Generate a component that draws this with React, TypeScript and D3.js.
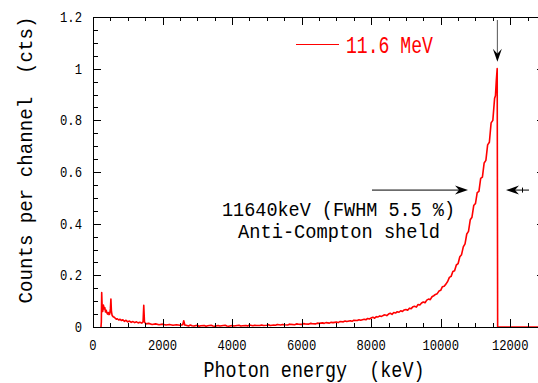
import React from 'react';
import * as d3 from 'd3';

// spectrum, [photon energy keV, counts per channel]
const lowEnergySpectrum: [number, number][] = [
  [230, 0], [240, 0.02], [250, 0.133], [265, 0.07], [280, 0.06], [300, 0.085], [320, 0.07],
  [340, 0.075], [360, 0.058], [380, 0.065], [400, 0.055], [420, 0.05], [440, 0.056], [460, 0.048],
  [480, 0.05], [500, 0.07], [515, 0.108], [530, 0.06], [550, 0.045], [580, 0.04], [610, 0.038],
  [640, 0.034], [670, 0.03], [700, 0.032], [740, 0.027], [780, 0.03], [820, 0.025], [860, 0.028],
  [900, 0.022], [950, 0.026], [1000, 0.02], [1050, 0.023], [1100, 0.018], [1150, 0.021],
  [1200, 0.017], [1250, 0.02], [1300, 0.016], [1350, 0.018], [1400, 0.015], [1440, 0.02],
  [1460, 0.084], [1480, 0.02], [1520, 0.012], [1600, 0.014], [1700, 0.01], [1800, 0.012],
  [1900, 0.009], [2000, 0.011], [2100, 0.008], [2200, 0.01], [2300, 0.007], [2400, 0.009],
  [2500, 0.007], [2580, 0.009], [2610, 0.024], [2640, 0.008],
];

const midEnergySpectrum: [number, number][] = [
  [2700, 0.006], [2750, 0.004], [2800, 0.008], [2850, 0.005], [2900, 0.004], [3000, 0.007],
  [3050, 0.003], [3100, 0.005], [3200, 0.006], [3250, 0.003], [3300, 0.005], [3400, 0.007],
  [3450, 0.004], [3500, 0.003], [3600, 0.006], [3650, 0.004], [3700, 0.005], [3800, 0.007],
  [3850, 0.004], [3900, 0.003], [4000, 0.006], [4050, 0.004], [4100, 0.005], [4200, 0.007],
  [4250, 0.004], [4300, 0.005], [4400, 0.006], [4450, 0.004], [4500, 0.008], [4600, 0.005],
  [4650, 0.007], [4700, 0.006], [4800, 0.006], [4850, 0.008], [4900, 0.006], [5000, 0.007],
  [5050, 0.009], [5100, 0.006], [5200, 0.008], [5250, 0.007], [5300, 0.01], [5400, 0.008],
  [5450, 0.01], [5500, 0.009], [5600, 0.008], [5650, 0.011], [5700, 0.01], [5800, 0.009],
  [5850, 0.012], [5900, 0.011], [6000, 0.01], [6050, 0.013], [6100, 0.012], [6200, 0.011],
  [6250, 0.014], [6300, 0.013], [6400, 0.012], [6450, 0.015], [6500, 0.014], [6600, 0.016],
  [6650, 0.014], [6700, 0.017], [6800, 0.015], [6850, 0.018], [6900, 0.017], [7000, 0.019],
  [7050, 0.017], [7100, 0.021], [7200, 0.02], [7250, 0.023], [7300, 0.021], [7400, 0.024],
  [7450, 0.022], [7500, 0.026], [7600, 0.025], [7650, 0.028], [7700, 0.026], [7800, 0.03],
  [7850, 0.028], [7900, 0.033], [7950, 0.031],
];

const photopeakSpectrum: [number, number][] = [
  [8000, 0.035], [8050, 0.038], [8100, 0.034], [8150, 0.04], [8200, 0.039], [8250, 0.043],
  [8300, 0.041], [8350, 0.045], [8400, 0.047], [8450, 0.044], [8500, 0.05], [8550, 0.053],
  [8600, 0.049], [8650, 0.056], [8700, 0.054], [8750, 0.059], [8800, 0.057], [8850, 0.063],
  [8900, 0.06], [8950, 0.066], [9000, 0.068], [9050, 0.065], [9100, 0.073], [9150, 0.071],
  [9200, 0.078], [9250, 0.08], [9300, 0.077], [9350, 0.087], [9400, 0.085], [9450, 0.093],
  [9500, 0.097], [9550, 0.094], [9600, 0.104], [9650, 0.108], [9700, 0.106], [9750, 0.117],
  [9800, 0.121], [9850, 0.126], [9900, 0.129], [9950, 0.139], [10000, 0.142], [10050, 0.156],
  [10100, 0.158], [10150, 0.166], [10200, 0.176], [10250, 0.192], [10300, 0.196], [10350, 0.215],
  [10400, 0.218], [10450, 0.24], [10500, 0.245], [10550, 0.272], [10600, 0.28], [10650, 0.31],
  [10700, 0.322], [10750, 0.36], [10800, 0.37], [10850, 0.415], [10900, 0.425], [10950, 0.47],
  [11000, 0.478], [11050, 0.52], [11100, 0.525], [11150, 0.575], [11200, 0.58], [11250, 0.635],
  [11300, 0.645], [11350, 0.705], [11400, 0.715], [11450, 0.79], [11500, 0.8], [11550, 0.885],
  [11575, 0.895], [11600, 0.955], [11625, 1.0], [11638, 0], [13000, 0],
];

const xMajorTicks = [0, 2000, 4000, 6000, 8000, 10000, 12000];
const xTickLabels = ['0', '2000', '4000', '6000', '8000', '10000', '12000'];
const yMajorTicks = [0, 0.2, 0.4, 0.6, 0.8, 1, 1.2];
const yTickLabels = ['0', '0.2', '0.4', '0.6', '0.8', '1', '1.2'];

const xTitle = 'Photon energy\u00a0 (keV)';
const yTitle = 'Counts per channel\u00a0 (cts)';
const legendLabel = '11.6 MeV';
const annotationLines = ['11640keV (FWHM 5.5 %)', 'Anti-Compton sheld'];
const peakEnergy = 11630;
const peakCounts = 1.0;

const W = 538, H = 383;
const FONT = "'Liberation Mono', 'DejaVu Sans Mono', monospace";

const App = () => {
  const margin = { top: 17, right: -7, bottom: 56, left: 93 };
  const x = d3.scaleLinear().domain([0, 13000]).range([margin.left, W - margin.right]);
  const y = d3.scaleLinear().domain([0, 1.2]).range([H - margin.bottom, margin.top]);

  const spectrum = [...lowEnergySpectrum, ...midEnergySpectrum, ...photopeakSpectrum];
  const line = d3.line<[number, number]>().x(d => x(d[0])).y(d => y(d[1]));

  const x0 = x(0), x1 = x(13000), y0 = y(0), y1 = y(1.2);
  const xMinor = d3.range(0, 13001, 500).filter(v => v % 2000 !== 0);
  const yMinor = d3.range(0, 1.2001, 0.05).filter(v => Math.abs(v * 5 - Math.round(v * 5)) > 1e-6);

  const peakX = x(peakEnergy);
  const arrowY = y(0.53);
  const px = (v: number) => Math.round(v) + 0.5;

  return (
    <svg width={W} height={H} style={{ position: 'absolute', left: 0, top: 0, background: '#fff' }}>
      {/* spectrum */}
      <path d={line(spectrum) || ''} fill="none" stroke="#ff0000" strokeWidth={1.6} strokeLinejoin="round" />

      {/* frame */}
      <rect x={px(x0)} y={px(y1)} width={x1 - x0} height={Math.round(y0 - y1)} fill="none" stroke="#000" strokeWidth={1} />

      {/* ticks on all four sides, pointing inward */}
      <g stroke="#000" strokeWidth={1}>
        {xMajorTicks.map(v => (
          <g key={'xM' + v}>
            <line x1={px(x(v))} x2={px(x(v))} y1={y0} y2={y0 - 8} />
            <line x1={px(x(v))} x2={px(x(v))} y1={y1} y2={y1 + 8} />
          </g>
        ))}
        {xMinor.map(v => (
          <g key={'xm' + v}>
            <line x1={px(x(v))} x2={px(x(v))} y1={y0} y2={y0 - 4} />
            <line x1={px(x(v))} x2={px(x(v))} y1={y1} y2={y1 + 4} />
          </g>
        ))}
        {yMajorTicks.map(v => (
          <g key={'yM' + v}>
            <line x1={x0} x2={x0 + 8} y1={px(y(v))} y2={px(y(v))} />
            <line x1={x1} x2={x1 - 8} y1={px(y(v))} y2={px(y(v))} />
          </g>
        ))}
        {yMinor.map(v => (
          <g key={'ym' + v}>
            <line x1={x0} x2={x0 + 5} y1={px(y(v))} y2={px(y(v))} />
            <line x1={x1} x2={x1 - 5} y1={px(y(v))} y2={px(y(v))} />
          </g>
        ))}
      </g>

      {/* tick labels */}
      <g fontFamily={FONT} fontSize={15} fill="#000">
        {xMajorTicks.map((v, i) => (
          <text key={'xl' + v} x={x(v)} y={350} textAnchor="middle"
            textLength={xTickLabels[i].length * 7.3}
            lengthAdjust="spacingAndGlyphs">{xTickLabels[i]}</text>
        ))}
        {yMajorTicks.map((v, i) => (
          <text key={'yl' + v} x={82} y={y(v) + 5} textAnchor="end"
            textLength={yTickLabels[i].length > 1 ? 22 : 7.3}
            lengthAdjust="spacingAndGlyphs">{yTickLabels[i]}</text>
        ))}
      </g>

      {/* axis titles */}
      <text x={314} y={377} textAnchor="middle" fontFamily={FONT} fontSize={22}
        textLength={221} lengthAdjust="spacingAndGlyphs">{xTitle}</text>
      <text transform="translate(32,160) rotate(-90)" textAnchor="middle" fontFamily={FONT} fontSize={21}
        textLength={287} lengthAdjust="spacingAndGlyphs">{yTitle}</text>

      {/* legend */}
      <line x1={296} x2={339} y1={44.5} y2={44.5} stroke="#ff0000" strokeWidth={1} />
      <text x={346} y={53} fontFamily={FONT} fontSize={23} fill="#ff0000"
        textLength={87} lengthAdjust="spacingAndGlyphs">{legendLabel}</text>

      {/* peak marker arrow */}
      <line x1={peakX} x2={peakX} y1={y1 + 3} y2={y(peakCounts) - 10} stroke="#555" strokeWidth={1} />
      <path d={`M${peakX},${y(peakCounts) - 7} L${peakX - 4.5},${y(peakCounts) - 20} L${peakX},${y(peakCounts) - 15} L${peakX + 4.5},${y(peakCounts) - 20} Z`} fill="#000" />

      {/* FWHM arrows */}
      <line x1={372} x2={462} y1={arrowY} y2={arrowY} stroke="#000" strokeWidth={1} />
      <path d={`M468,${arrowY} L455,${arrowY - 4.5} L459,${arrowY} L455,${arrowY + 4.5} Z`} fill="#000" />
      <line x1={510} x2={529} y1={arrowY} y2={arrowY} stroke="#000" strokeWidth={1} />
      <line x1={522.5} x2={522.5} y1={arrowY - 2.5} y2={arrowY + 2.5} stroke="#000" strokeWidth={1} />
      <path d={`M506,${arrowY} L519,${arrowY - 4.5} L515,${arrowY} L519,${arrowY + 4.5} Z`} fill="#000" />

      {/* annotation */}
      <g fontFamily={FONT} fontSize={21} fill="#000" textAnchor="middle">
        <text x={338.5} y={216} textLength={233} lengthAdjust="spacingAndGlyphs">{annotationLines[0]}</text>
        <text x={339} y={238} textLength={202} lengthAdjust="spacingAndGlyphs">{annotationLines[1]}</text>
      </g>
    </svg>
  );
};

export default App;
